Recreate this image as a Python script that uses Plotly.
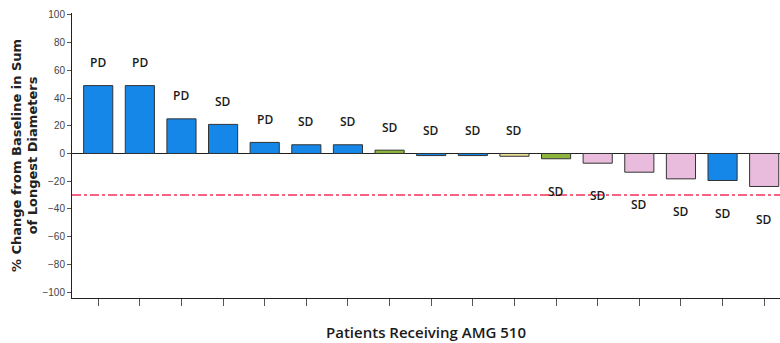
import plotly.graph_objects as go

# Best percent change in tumour size per patient (waterfall, sorted descending)
patients = list(range(17))
pct_change = [49, 49, 25, 21, 8, 6.3, 6.3, 2.4, -1.5, -1.5, -2, -3.8, -7, -13.5, -18.3, -19.5, -23.8]
response = ["PD", "PD", "PD", "SD", "PD", "SD", "SD", "SD", "SD", "SD", "SD",
            "SD", "SD", "SD", "SD", "SD", "SD"]
bar_group = ["blue", "blue", "blue", "blue", "blue", "blue", "blue", "green", "blue", "blue",
             "yellow", "green", "pink", "pink", "pink", "blue", "pink"]
label_above = [True] * 11 + [False] * 6
pr_threshold = -30

palette = {"blue": "#1487E8", "green": "#8DB43C", "yellow": "#EDE49A", "pink": "#E9BCDD"}

fig = go.Figure()
fig.add_trace(go.Bar(
    x=patients,
    y=pct_change,
    width=0.7,
    marker=dict(color=[palette[g] for g in bar_group],
                line=dict(color="#333333", width=1)),
    showlegend=False,
    hoverinfo="skip",
))

# Partial-response threshold
fig.add_shape(type="line", xref="paper", yref="y", x0=0, x1=1,
              y0=pr_threshold, y1=pr_threshold,
              line=dict(color="#F2305A", width=1.5, dash="dashdot"))

for x, v, r, above in zip(patients, pct_change, response, label_above):
    ypos = max(v, 0) + 16.5 if above else v - 23.5
    fig.add_annotation(x=x, y=ypos, text=r, showarrow=False,
                       font=dict(family="Open Sans", size=12, color="#1a1a1a", weight=600))

fig.update_layout(
    width=780, height=343,
    margin=dict(l=72, r=0, t=13, b=45),
    paper_bgcolor="white", plot_bgcolor="white",
    bargap=0.3,
    font=dict(family="Liberation Sans Narrow, Liberation Sans, Arial", color="#444444"),
)
fig.update_xaxes(
    range=[-0.63, 16.38],
    showline=True, linecolor="#222222", linewidth=1,
    ticks="outside", ticklen=7, tickcolor="#555555",
    tickvals=patients, showticklabels=False,
    showgrid=False, zeroline=False,
    title=dict(text="Patients Receiving AMG 510",
               font=dict(family="Open Sans", size=15, color="#1a1a1a", weight=600),
               standoff=22),
)
fig.update_yaxes(
    range=[-104.3, 101.4],
    showline=True, linecolor="#222222", linewidth=1,
    ticks="outside", ticklen=4, tickcolor="#555555",
    tickvals=[-100, -80, -60, -40, -20, 0, 20, 40, 60, 80, 100],
    tickfont=dict(size=10, color="#444444"),
    showgrid=False,
    zeroline=True, zerolinecolor="#222222", zerolinewidth=1,
    title=dict(text="% Change from Baseline in Sum<br>of Longest Diameters",
               font=dict(family="DejaVu Sans", size=13, color="#222222", weight="bold"),
               standoff=1),
)

fig.write_html("out.html")
